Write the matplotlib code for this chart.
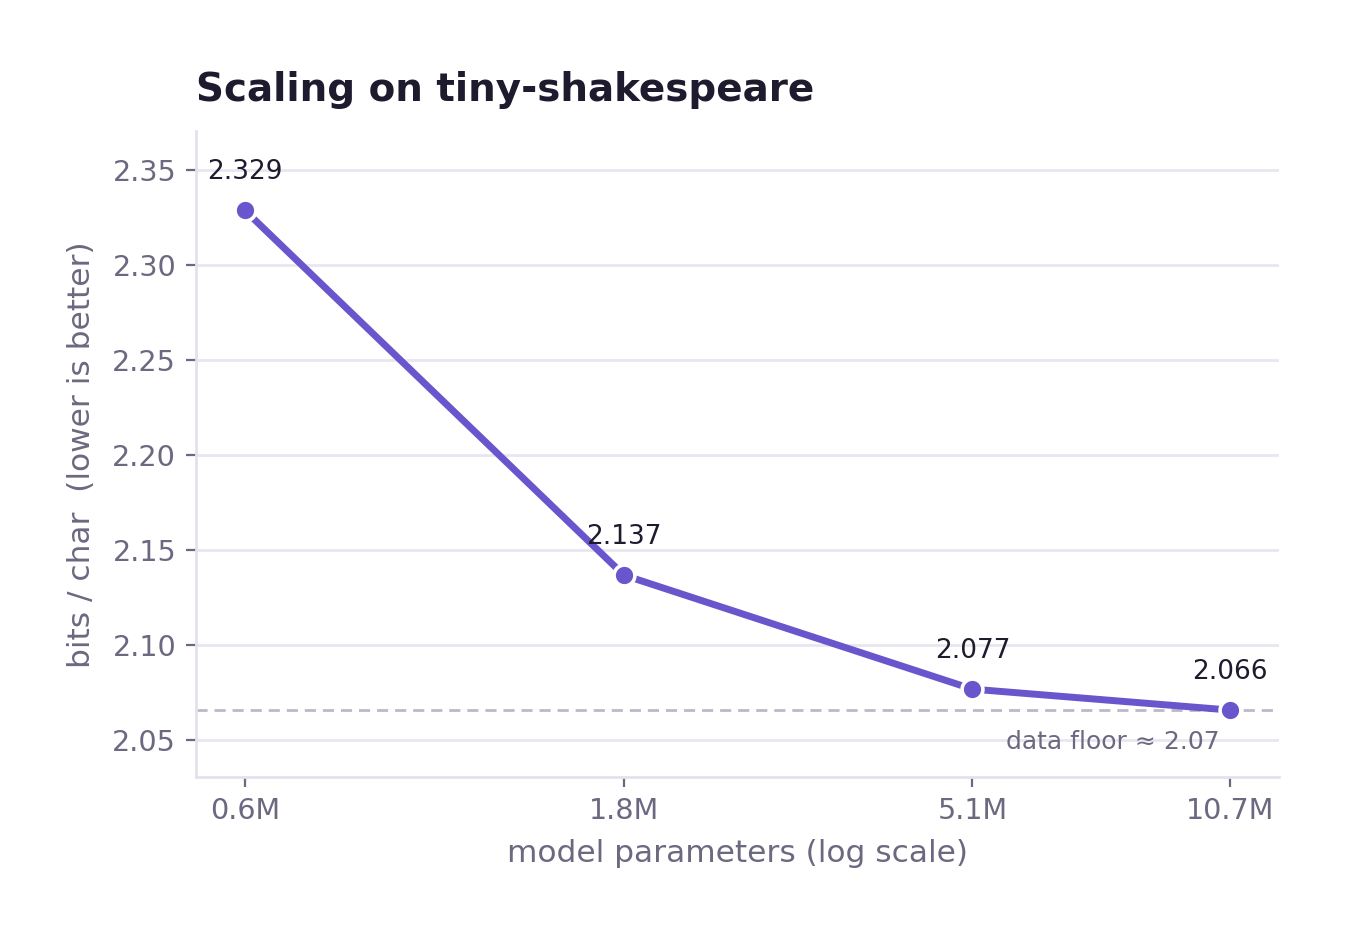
import numpy as np
import matplotlib
matplotlib.use("Agg")
import matplotlib.pyplot as plt

# model sizes (millions of params) and bits/char
params_m = [0.6, 1.82, 5.05, 10.72]
tick_labels = ["0.6M", "1.8M", "5.1M", "10.7M"]
bpc = [2.329, 2.137, 2.077, 2.066]
floor_val = 2.066

purple = "#6a56cc"
txt_gray = "#6b6880"
dark = "#1e1b2e"

fig, ax = plt.subplots(figsize=(6.745, 4.695), dpi=200)
fig.subplots_adjust(left=0.145, right=0.948, top=0.86, bottom=0.172)

ax.set_xscale("log")
ax.plot(params_m, bpc, color=purple, lw=2.5, marker="o", ms=7.5,
        mfc=purple, mec="white", mew=1.3, zorder=3)
ax.axhline(floor_val, color="#bcb9c9", lw=1, ls=(0, (4, 2.5)), zorder=2)

for x, y in zip(params_m, bpc):
    ax.annotate(f"{y:.3f}", (x, y), xytext=(0, 9), textcoords="offset points",
                ha="center", va="bottom", fontsize=9.5, color=dark)

ax.text(params_m[-1] * 0.97, floor_val - 0.0105, "data floor \u2248 2.07",
        ha="right", va="top", fontsize=9, color=txt_gray)

ax.set_xticks(params_m)
ax.set_xticklabels(tick_labels)
ax.minorticks_off()
ax.set_ylim(2.0305, 2.3705)
ax.set_yticks([2.05, 2.10, 2.15, 2.20, 2.25, 2.30, 2.35])
ax.set_yticklabels([f"{v:.2f}" for v in [2.05, 2.10, 2.15, 2.20, 2.25, 2.30, 2.35]])

ax.grid(axis="y", color="#e8e6f0", lw=1)
ax.set_axisbelow(True)
for s in ["top", "right"]:
    ax.spines[s].set_visible(False)
for s in ["left", "bottom"]:
    ax.spines[s].set_color("#e3e1ec")
    ax.spines[s].set_linewidth(1)
ax.tick_params(colors=txt_gray, labelsize=10.3, length=3.5, width=0.8)

ax.set_xlabel("model parameters (log scale)", fontsize=11.25, color=txt_gray, labelpad=5)
ax.set_ylabel("bits / char  (lower is better)", fontsize=11.25, color=txt_gray, labelpad=6)
ax.set_title("Scaling on tiny-shakespeare", loc="left", fontsize=14,
             fontweight="bold", color=dark, pad=11)

fig.savefig("out.png", dpi=200)
